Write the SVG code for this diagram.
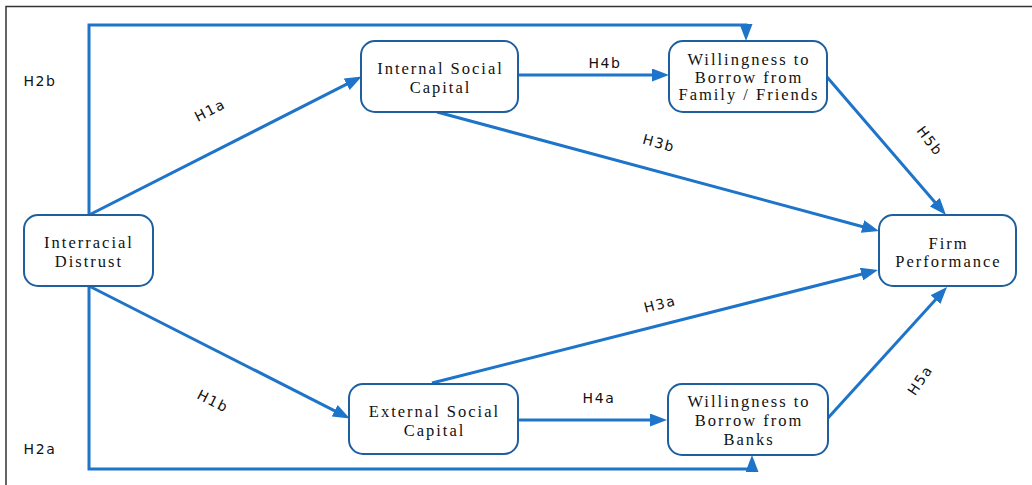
<svg xmlns="http://www.w3.org/2000/svg" width="1032" height="485" viewBox="0 0 1032 485">
<style>
.node rect{fill:#fff;stroke:#1d5f9f;stroke-width:2}
.node text{font-family:"Liberation Serif","Times New Roman",serif;font-size:16.5px;letter-spacing:2px;fill:#111;text-anchor:middle}
.conn line,.conn path{stroke:#1e74c8;stroke-width:3;fill:none}
.lbl{font-family:"DejaVu Sans",Verdana,sans-serif;font-size:14px;letter-spacing:1.6px;fill:#111;text-anchor:middle;dominant-baseline:central}
</style>
<defs>
<marker id="ah" markerUnits="userSpaceOnUse" markerWidth="17" markerHeight="13" refX="10" refY="6.5" orient="auto" viewBox="0 0 17 13">
<path d="M0,0 L17,6.5 L0,13 z" fill="#1e74c8"/>
</marker>
</defs>
<rect width="1032" height="485" fill="#fff"/>
<path d="M6,485 V6.5 H1032" fill="none" stroke="#333" stroke-width="1.5"/>
<g class="conn">
<path d="M89,215 V25 H746 V34" marker-end="url(#ah)"/>
<path d="M89,286 V469 H752 V462" marker-end="url(#ah)"/>
<line x1="89" y1="215" x2="355.6" y2="79.7" marker-end="url(#ah)"/>
<line x1="89" y1="286" x2="343.6" y2="415.3" marker-end="url(#ah)"/>
<line x1="518" y1="75" x2="662" y2="75" marker-end="url(#ah)"/>
<line x1="518" y1="420" x2="660" y2="420" marker-end="url(#ah)"/>
<line x1="437" y1="112" x2="872.2" y2="229.2" marker-end="url(#ah)"/>
<line x1="432" y1="383" x2="871.2" y2="271.7" marker-end="url(#ah)"/>
<line x1="827" y1="77" x2="941.4" y2="209.7" marker-end="url(#ah)"/>
<line x1="828" y1="418" x2="942.3" y2="292.2" marker-end="url(#ah)"/>
</g>
<g id="labels">
<text class="lbl" x="40" y="81">H2b</text>
<text class="lbl" x="40" y="449">H2a</text>
<text class="lbl" transform="translate(210,110) rotate(-27)">H1a</text>
<text class="lbl" transform="translate(213,401) rotate(27)">H1b</text>
<text class="lbl" x="605" y="63">H4b</text>
<text class="lbl" x="599" y="398">H4a</text>
<text class="lbl" transform="translate(659,143) rotate(15)">H3b</text>
<text class="lbl" transform="translate(660,304) rotate(-14)">H3a</text>
<text class="lbl" transform="translate(930,141) rotate(53)">H5b</text>
<text class="lbl" transform="translate(920,380) rotate(-56)">H5a</text>
</g>
<g id="n-distrust" class="node">
<rect x="24" y="215" width="129" height="71" rx="14"/>
<text x="89" y="248">Interracial</text>
<text x="89" y="267">Distrust</text>
</g>
<g id="n-internal" class="node">
<rect x="361" y="41" width="157" height="71" rx="14"/>
<text x="440.5" y="74">Internal Social</text>
<text x="440.5" y="93">Capital</text>
</g>
<g id="n-family" class="node">
<rect x="669" y="41" width="158" height="71" rx="14"/>
<text x="749" y="65">Willingness to</text>
<text x="749" y="82.5">Borrow from</text>
<text x="749" y="100">Family / Friends</text>
</g>
<g id="n-firm" class="node">
<rect x="879" y="215" width="137" height="71" rx="14"/>
<text x="948.5" y="248.5">Firm</text>
<text x="948.5" y="267">Performance</text>
</g>
<g id="n-external" class="node">
<rect x="349" y="384" width="169" height="70" rx="14"/>
<text x="434.5" y="417">External Social</text>
<text x="434.5" y="436">Capital</text>
</g>
<g id="n-banks" class="node">
<rect x="668" y="384" width="160" height="71" rx="14"/>
<text x="749" y="407">Willingness to</text>
<text x="749" y="426">Borrow from</text>
<text x="749" y="445">Banks</text>
</g>
</svg>
